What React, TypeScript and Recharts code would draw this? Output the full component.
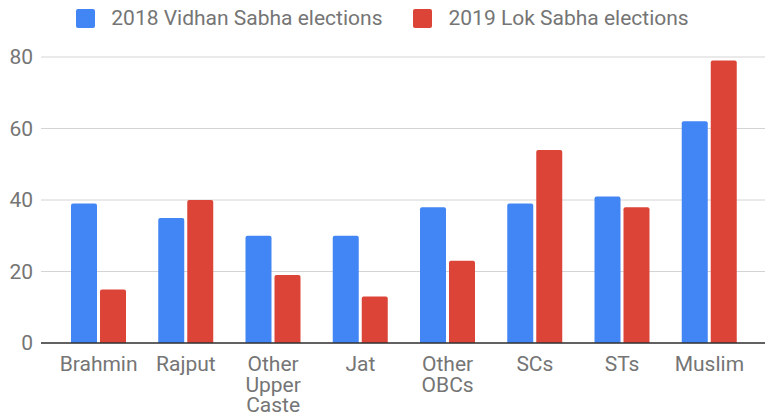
import { BarChart, Bar, XAxis, YAxis, CartesianGrid, Legend } from 'recharts'

const categories = [
  'Brahmin',
  'Rajput',
  'Other Upper Caste',
  'Jat',
  'Other OBCs',
  'SCs',
  'STs',
  'Muslim',
]
const vidhanSabha2018 = [39, 35, 30, 30, 38, 39, 41, 62]
const lokSabha2019 = [15, 40, 19, 13, 23, 54, 38, 79]
const yTicks = [0, 20, 40, 60, 80]

const seriesNames = ['2018 Vidhan Sabha elections', '2019 Lok Sabha elections']
const colors = ['#4285f4', '#db4437']

const data = categories.map((name, i) => ({
  name,
  vidhan: vidhanSabha2018[i],
  lok: lokSabha2019[i],
}))

const FONT = 'Roboto, "Noto Sans", sans-serif'
const TEXT = '#757575'

const CategoryTick = (props: any) => {
  const { x, y, payload } = props
  const words = String(payload.value).split(' ')
  return (
    <text x={x} y={y} textAnchor="middle" fill={TEXT} fontSize={21} fontFamily={FONT}>
      {words.map((w, i) => (
        <tspan key={i} x={x} dy={i === 0 ? 20 : 20.5}>
          {w}
        </tspan>
      ))}
    </text>
  )
}

const LegendBox = () => (
  <div
    style={{
      display: 'flex',
      justifyContent: 'center',
      alignItems: 'center',
      fontFamily: FONT,
      fontSize: 21,
      color: TEXT,
      height: 36,
    }}
  >
    {seriesNames.map((s, i) => (
      <div key={s} style={{ display: 'flex', alignItems: 'center', marginRight: i === 0 ? 31 : 0 }}>
        <span
          style={{
            width: 19,
            height: 19,
            borderRadius: 2,
            background: colors[i],
            display: 'inline-block',
            marginRight: 16,
          }}
        />
        <span>{s}</span>
      </div>
    ))}
  </div>
)

const App = () => {
  return (
    <div style={{ position: 'absolute', left: 0, top: 0, background: '#fff' }}>
      <BarChart
        width={765}
        height={416}
        data={data}
        margin={{ top: 21, right: 0, left: 0, bottom: 0 }}
        barSize={26}
        barGap={3}
      >
        <Legend
          verticalAlign="top"
          align="center"
          content={<LegendBox />}
          wrapperStyle={{ top: 0, left: 0, width: 765 }}
        />
        <CartesianGrid vertical={false} stroke="#d4d4d4" />
        <XAxis
          dataKey="name"
          interval={0}
          height={73}
          tickLine={false}
          axisLine={{ stroke: '#333', strokeWidth: 1.5 }}
          padding={{ left: 14, right: 12 }}
          tick={<CategoryTick />}
        />
        <YAxis
          width={41}
          domain={[0, 80]}
          ticks={yTicks}
          axisLine={false}
          tickLine={false}
          tick={{ fill: TEXT, fontSize: 21, fontFamily: FONT }}
        />
        <Bar
          dataKey="vidhan"
          name={seriesNames[0]}
          fill={colors[0]}
          radius={[2, 2, 0, 0]}
          isAnimationActive={false}
        />
        <Bar
          dataKey="lok"
          name={seriesNames[1]}
          fill={colors[1]}
          radius={[2, 2, 0, 0]}
          isAnimationActive={false}
        />
      </BarChart>
    </div>
  )
}

export default App
